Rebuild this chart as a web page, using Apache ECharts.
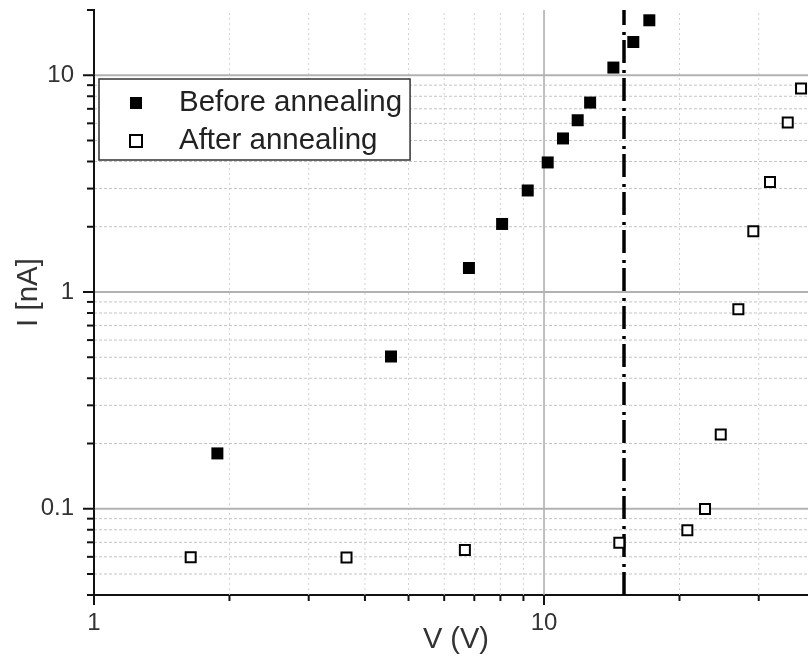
<!DOCTYPE html>
<html><head><meta charset="utf-8">
<script src="https://cdn.jsdelivr.net/npm/echarts@6/dist/echarts.min.js"></script>
<style>html,body{margin:0;padding:0;background:#fff}#c{width:808px;height:657px}</style>
</head><body><div id="c"></div>
<script>
// ---- data ----
const seriesNames = ['Before annealing', 'After annealing'];
const beforeV = [1.88, 4.57, 6.81, 8.07, 9.20, 10.19, 11.02, 11.88, 12.66, 14.26, 15.79, 17.14];
const beforeI = [0.180, 0.504, 1.29, 2.06, 2.94, 3.96, 5.11, 6.20, 7.48, 10.85, 14.24, 17.93];
const afterV = [1.64, 3.64, 6.67, 14.70, 20.82, 22.79, 24.70, 27.03, 29.18, 31.78, 34.80, 37.25];
const afterI = [0.0598, 0.0596, 0.0645, 0.0697, 0.0796, 0.0997, 0.220, 0.833, 1.905, 3.22, 6.05, 8.68];
const thresholdV = [15];
const xRange = [1, 38.6];
const yRange = [0.04, 20];
const xMajorTicks = [1, 10];
const xMinorTicks = [2, 3, 4, 5, 6, 7, 8, 9, 20, 30];
const yMajorTicks = [0.1, 1, 10];
const yMinorTicks = [0.04, 0.05, 0.06, 0.07, 0.08, 0.09, 0.2, 0.3, 0.4, 0.5, 0.6, 0.7, 0.8, 0.9, 2, 3, 4, 5, 6, 7, 8, 9, 20];
const xTickLabels = ['1', '10'];
const yTickLabels = ['0.1', '1', '10'];
const xAxisName = 'V (V)';
const yAxisName = 'I [nA]';

const FONT = '"Liberation Sans", Arial, sans-serif';
const chart = echarts.init(document.getElementById('c'), null, {renderer: 'canvas'});

function labelFor(ticks, labels) {
  return function (v) {
    for (let i = 0; i < ticks.length; i++) {
      if (Math.abs(Math.log10(v) - Math.log10(ticks[i])) < 1e-6) return labels[i];
    }
    return '';
  };
}

function renderXTick(params, api) {
  const v = api.value(0), major = api.value(2) === 1;
  const b = api.coord([v, yRange[0]]);
  const t = api.coord([v, yRange[1]]);
  const children = [];
  if (v > xRange[0]) {
    children.push({type: 'line', shape: {x1: b[0], y1: b[1], x2: t[0], y2: t[1]},
      style: major ? {stroke: '#ababab', lineWidth: 1.5} : {stroke: '#d2d2d2', lineWidth: 1, lineDash: [2, 3]}});
  }
  children.push({type: 'line', shape: {x1: b[0], y1: b[1], x2: b[0], y2: b[1] + (major ? 10 : 6)},
    style: {stroke: '#111', lineWidth: 2}});
  return {type: 'group', children: children};
}
function renderYTick(params, api) {
  const v = api.value(1), major = api.value(2) === 1;
  const l = api.coord([xRange[0], v]);
  const r = api.coord([xRange[1], v]);
  const children = [];
  if (v > yRange[0] && v < yRange[1]) {
    children.push({type: 'line', shape: {x1: l[0], y1: l[1], x2: r[0], y2: r[1]},
      style: major ? {stroke: '#b2b2b2', lineWidth: 2} : {stroke: '#c4c4c4', lineWidth: 1, lineDash: [3, 2]}});
  }
  children.push({type: 'line', shape: {x1: l[0] + 1, y1: l[1], x2: l[0] - (major ? 11 : 7), y2: l[1]},
    style: {stroke: '#111', lineWidth: 2}});
  return {type: 'group', children: children};
}

const xTickData = xMajorTicks.map(v => [v, yRange[0], 1]).concat(xMinorTicks.map(v => [v, yRange[0], 0]));
const yTickData = yMajorTicks.map(v => [xRange[0], v, 1]).concat(yMinorTicks.map(v => [xRange[0], v, 0]));

chart.setOption({
  animation: false,
  backgroundColor: '#fff',
  grid: {left: 94, right: 0, top: 10, bottom: 62, containLabel: false, outerBoundsMode: 'none'},
  legend: {
    data: seriesNames,
    orient: 'vertical',
    left: 99, top: 79,
    padding: [9, 8, 4, 30],
    itemWidth: 12, itemHeight: 12, itemGap: 8,
    borderColor: '#333', borderWidth: 1.5, backgroundColor: '#fff',
    textStyle: {fontFamily: FONT, fontSize: 29.5, color: '#222', padding: [0, 0, 0, 32]}
  },
  xAxis: {
    type: 'log', logBase: 10, min: xRange[0], max: xRange[1],
    axisLine: {show: true, lineStyle: {color: '#111', width: 2}},
    axisTick: {show: false}, splitLine: {show: false}, minorTick: {show: false},
    axisLabel: {formatter: labelFor(xMajorTicks, xTickLabels), fontFamily: FONT, fontSize: 24, color: '#333', margin: 16},
    name: xAxisName, nameLocation: 'middle', nameGap: 30, nameMoveOverlap: false,
    nameTextStyle: {fontFamily: FONT, fontSize: 29, color: '#333', padding: [0, 0, 0, 10]}
  },
  yAxis: {
    type: 'log', logBase: 10, min: yRange[0], max: yRange[1],
    axisLine: {show: true, lineStyle: {color: '#111', width: 2}},
    axisTick: {show: false}, splitLine: {show: false}, minorTick: {show: false},
    axisLabel: {formatter: labelFor(yMajorTicks, yTickLabels), fontFamily: FONT, fontSize: 24, color: '#333', margin: 20},
    name: yAxisName, nameLocation: 'middle', nameGap: 50, nameMoveOverlap: false,
    nameTextStyle: {fontFamily: FONT, fontSize: 29.5, color: '#333', padding: [0, 0, 0, 20]}
  },
  series: [
    {type: 'custom', name: 'xgrid', data: xTickData, renderItem: renderXTick, clip: false, z: 1, silent: true},
    {type: 'custom', name: 'ygrid', data: yTickData, renderItem: renderYTick, clip: false, z: 1, silent: true},
    {
      name: seriesNames[0], type: 'scatter', symbol: 'rect', symbolSize: 12, clip: false, z: 5,
      itemStyle: {color: '#000', opacity: 1},
      data: beforeV.map((v, i) => [v, beforeI[i]]),
      markLine: {
        silent: true, symbol: ['none', 'none'], label: {show: false},
        lineStyle: {color: '#000', width: 3.5, type: [23, 5, 3, 7]},
        data: thresholdV.map(v => ({xAxis: v}))
      }
    },
    {
      name: seriesNames[1], type: 'scatter', symbol: 'rect', symbolSize: 10, clip: false, z: 5,
      itemStyle: {color: '#fff', borderColor: '#000', borderWidth: 2, opacity: 1},
      data: afterV.map((v, i) => [v, afterI[i]])
    }
  ]
});
</script></body></html>
